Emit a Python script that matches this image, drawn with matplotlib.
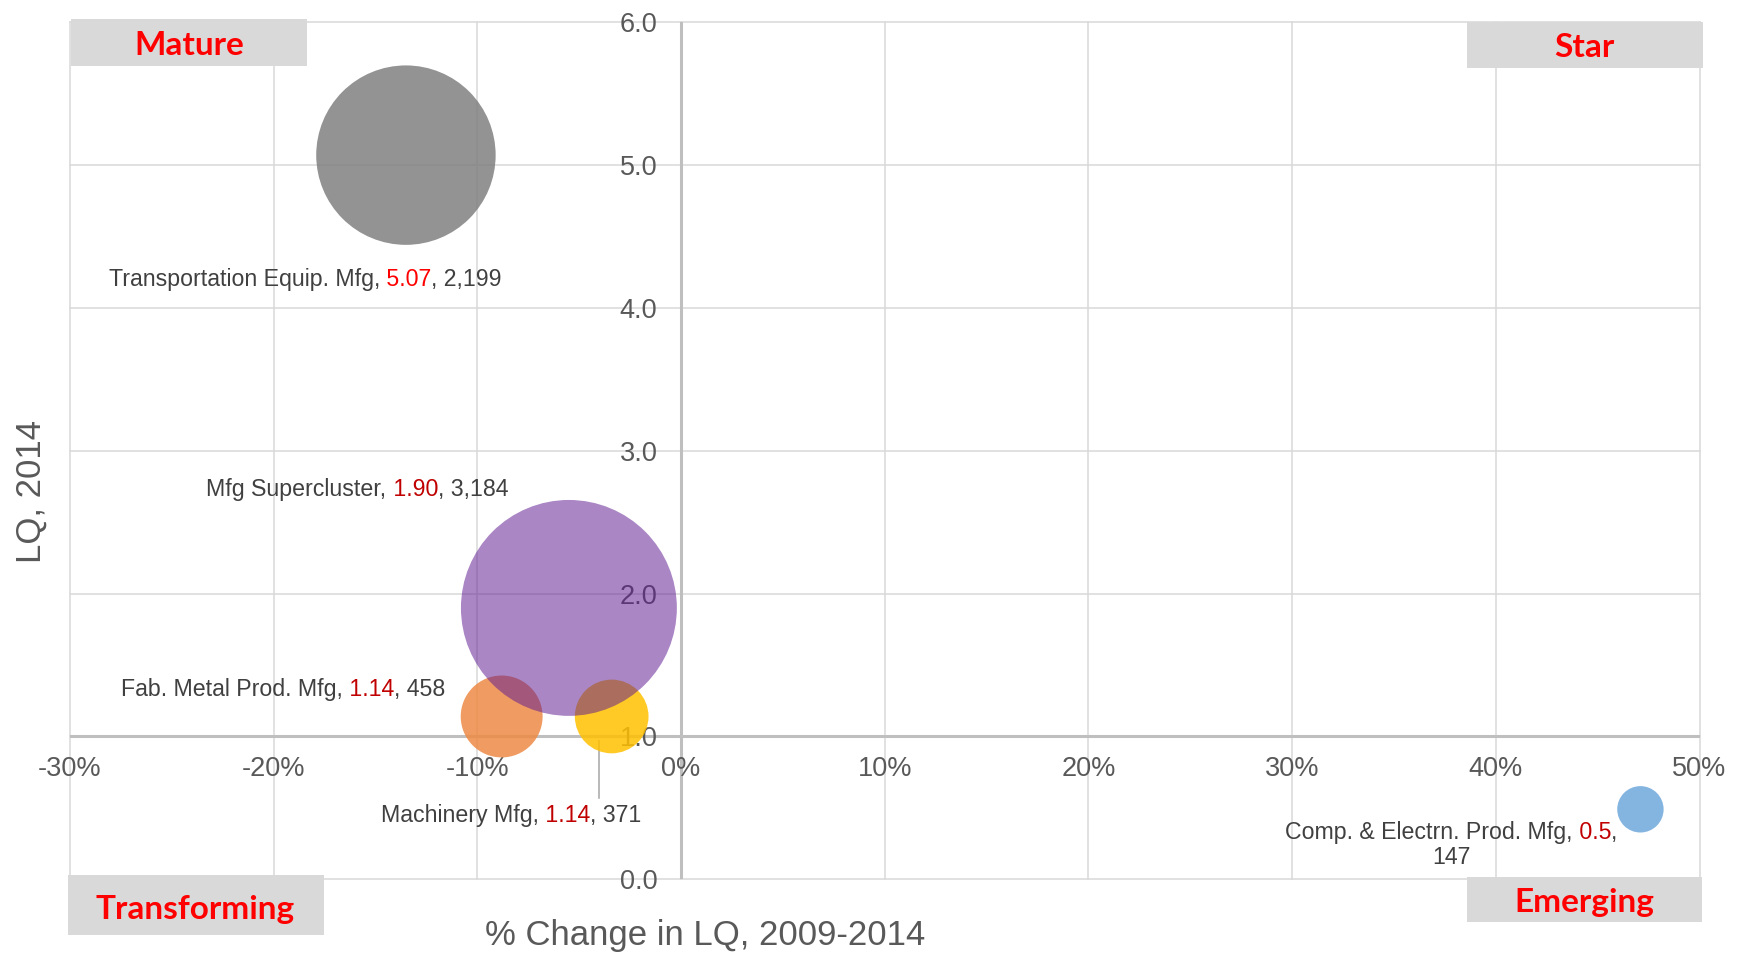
import matplotlib
matplotlib.use("Agg")
import matplotlib.pyplot as plt
from matplotlib.offsetbox import TextArea, HPacker, VPacker, AnnotationBbox
from matplotlib.patches import Rectangle

# ---------------- data ----------------
names = ["Transportation Equip. Mfg", "Fab. Metal Prod. Mfg", "Machinery Mfg",
         "Comp. & Electrn. Prod. Mfg", "Mfg Supercluster"]
pct_change = [-13.5, -8.8, -3.4, 47.1, -5.5]          # % change in LQ 2009-2014
lq_2014 = [5.07, 1.14, 1.14, 0.49, 1.90]
lq_label = ["5.07", "1.14", "1.14", "0.5", "1.90"]
employment = [2199, 458, 371, 147, 3184]
emp_label = ["2,199", "458", "371", "147", "3,184"]
colors = ["#808080", "#ED8A45", "#FFC000", "#6FA8DC", "#601C91"]
alphas = [0.85, 0.85, 0.85, 0.85, 0.53]
num_colors = ["#FF0000", "#C00000", "#C00000", "#C00000", "#C00000"]
label_x = [-18.44, -19.51, -8.32, 37.83, -15.88]
label_y = [4.20, 1.33, 0.45, 0.24, 2.73]
label_wrap = [False, False, False, True, False]
leader_x = [-4.04]
leader_y = [(0.965, 0.568)]

x_ticks = [-30, -20, -10, 0, 10, 20, 30, 40, 50]
x_ticklabels = ["-30%", "-20%", "-10%", "0%", "10%", "20%", "30%", "40%", "50%"]
y_ticks = [0, 1, 2, 3, 4, 5, 6]
y_ticklabels = ["0.0", "1.0", "2.0", "3.0", "4.0", "5.0", "6.0"]

quadrants = ["Mature", "Star", "Transforming", "Emerging"]
x_title = "% Change in LQ, 2009-2014"
y_title = "LQ, 2014"

# ---------------- figure ----------------
W, H = 1739, 958
fig = plt.figure(figsize=(W / 100, H / 100), dpi=100)
ax = fig.add_axes([69.8 / W, 1 - 879.3 / H, (1699.5 - 69.8) / W, (879.3 - 22.3) / H])
ax.set_xlim(-30, 50)
ax.set_ylim(0, 6)
ax.patch.set_alpha(0)

GRID = "#d9d9d9"
AXL = "#bfbfbf"
TXT = "#595959"
LAB = "#404040"

for v in x_ticks:
    ax.axvline(v, color=GRID, lw=1.1, zorder=0.5, clip_on=False)
for v in y_ticks:
    ax.axhline(v, color=GRID, lw=1.1, zorder=0.5, clip_on=False)
ax.axhline(1.0, color=AXL, lw=2.2, zorder=0.6)
ax.axvline(0.0, color=AXL, lw=2.2, zorder=0.6)

for s in ax.spines.values():
    s.set_visible(False)
ax.spines["bottom"].set_position(("data", 1.0))
ax.spines["left"].set_position(("data", 0.0))

ax.set_xticks(x_ticks)
ax.set_xticklabels(x_ticklabels)
ax.set_yticks(y_ticks)
ax.set_yticklabels(y_ticklabels)
ax.tick_params(axis="both", length=0, labelsize=19.5, labelcolor=TXT)
ax.tick_params(axis="x", pad=14)
ax.tick_params(axis="y", pad=17)
for t in ax.get_xticklabels() + ax.get_yticklabels():
    t.set_family("Liberation Sans")

# bubbles: area proportional to employment
size_scale = 7.59
for i in range(len(names)):
    ax.scatter([pct_change[i]], [lq_2014[i]], s=[employment[i] * size_scale],
               color=colors[i], alpha=alphas[i], edgecolors="none", zorder=2)

# data labels
fp = dict(family="Liberation Sans", size=16.7, color=LAB)
for i in range(len(names)):
    nprops = dict(fp)
    nprops["color"] = num_colors[i]
    if label_wrap[i]:
        line1 = HPacker(children=[TextArea(names[i] + ",", textprops=fp),
                                  TextArea(" " + lq_label[i], textprops=nprops),
                                  TextArea(",", textprops=fp)],
                        align="baseline", pad=0, sep=0)
        line2 = TextArea(emp_label[i], textprops=fp)
        box = VPacker(children=[line1, line2], align="center", pad=0, sep=2)
    else:
        box = HPacker(children=[TextArea(names[i] + ",", textprops=fp),
                                TextArea(" " + lq_label[i], textprops=nprops),
                                TextArea(", " + emp_label[i], textprops=fp)],
                      align="baseline", pad=0, sep=0)
    ab = AnnotationBbox(box, (label_x[i], label_y[i]), xycoords="data",
                        frameon=False, box_alignment=(0.5, 0.5), pad=0, zorder=4)
    ax.add_artist(ab)

for lx, (y0, y1) in zip(leader_x, leader_y):
    ax.plot([lx, lx], [y0, y1], color="#a6a6a6", lw=1.1, zorder=1.5)

# quadrant label boxes (figure pixel positions)
qboxes = [(70.5, 19, 307, 65.7), (1467.3, 21.7, 1702.7, 67.7),
          (67.5, 875, 323.7, 935), (1467.4, 877, 1702.4, 922)]
qtext = [(189, 55), (1584.5, 57.3), (195.4, 919), (1584.5, 912)]
for q, (x0, y0, x1, y1), (tx, ty) in zip(quadrants, qboxes, qtext):
    fig.add_artist(Rectangle((x0 / W, 1 - y1 / H), (x1 - x0) / W, (y1 - y0) / H,
                             transform=fig.transFigure, facecolor="#d9d9d9",
                             edgecolor="none", zorder=5))
    fig.text(tx / W, 1 - ty / H, q, ha="center", va="baseline", fontsize=24,
             fontweight="bold", family="Lato", color="#FF0000", zorder=6)

fig.text(705 / W, 1 - 945 / H, x_title, ha="center", va="baseline", fontsize=25,
         family="Liberation Sans", color=TXT)
fig.text(31.7 / W, 1 - 491.5 / H, y_title, ha="center", va="center", rotation=90,
         fontsize=25, family="Liberation Sans", color=TXT)

fig.savefig("out.png", dpi=100)
